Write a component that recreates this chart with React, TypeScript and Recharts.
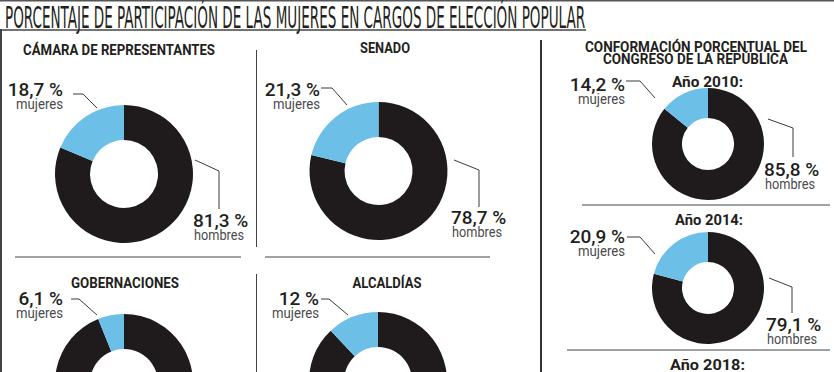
import { PieChart, Pie, Cell } from 'recharts'

// participación por cargo (%)
const cargos = ['CÁMARA DE REPRESENTANTES', 'SENADO', 'GOBERNACIONES', 'ALCALDÍAS']
const cargosMujeres = [18.7, 21.3, 6.1, 12]
const cargosHombres = [81.3, 78.7, 93.9, 88]

// congreso por año (%)
const anios = ['2010', '2014', '2018']
const congresoMujeres = [14.2, 20.9]
const congresoHombres = [85.8, 79.1]

const COLORS = { hombres: '#1f1b1c', mujeres: '#6cc0e8' }
const INK = '#231f20'
const GREY = '#4a4a4c'
const FONT = 'Roboto, "Liberation Sans", sans-serif'
const NARROW = '"Liberation Sans Narrow", "DejaVu Sans Condensed", sans-serif'

const fmt = (v: number) => v.toString().replace('.', ',') + ' %'

type Pt = [number, number]
interface Panel {
  cx: number
  cy: number
  ro: number
  ri: number
  wNum: Pt // end anchor of women number
  wLine: Pt[]
  mNum?: Pt // start anchor of men number
  mLine?: Pt[]
}

// layout of each donut and its callouts
const cargoPanels: Panel[] = [
  { cx: 124, cy: 174, ro: 69, ri: 34, wNum: [63, 96], wLine: [[73, 94], [83, 94], [97, 108]], mNum: [193, 227], mLine: [[195, 160], [219, 171], [219, 209]] },
  { cx: 378.5, cy: 171, ro: 69, ri: 34, wNum: [320, 96], wLine: [[321, 88], [332, 88], [347, 105]], mNum: [451, 224], mLine: [[454, 160], [479, 170], [479, 207]] },
  { cx: 124, cy: 383, ro: 69, ri: 34, wNum: [63, 305], wLine: [[71, 299], [79, 299], [97, 315]] },
  { cx: 378, cy: 381, ro: 69, ri: 34, wNum: [319, 305], wLine: [[321, 299], [329, 299], [348, 315]] },
]
// title centre, baseline, width
const cargoTitles: [number, number, number][] = [[119, 55, 192], [385, 53, 50], [125, 288, 108], [387, 288, 69]]

const congresoPanels: Panel[] = [
  { cx: 708, cy: 144, ro: 56, ri: 26, wNum: [625, 91], wLine: [[626, 81], [640, 81], [655, 98]], mNum: [764, 176], mLine: [[768, 119], [793, 128], [793, 157]] },
  { cx: 708, cy: 288, ro: 56, ri: 26, wNum: [625, 243], wLine: [[627, 237], [640, 237], [655, 254]], mNum: [766, 331], mLine: [[769, 278], [792, 287], [792, 313]] },
]
const anioTitles: [number, number, number][] = [[707.5, 87, 71], [709, 225, 68], [707.5, 370, 75]]

const pts = (p: Pt[]) => p.map((q) => q.join(',')).join(' ')

function Callouts({ panel, m, h }: { panel: Panel; m: number; h: number }) {
  return (
    <g>
      <text x={panel.wNum[0]} y={panel.wNum[1]} textAnchor="end" fontFamily={FONT} fontWeight={500} fontSize={19} fill={INK}>
        {fmt(m)}
      </text>
      <text x={panel.wNum[0]} y={panel.wNum[1] + 12.5} textAnchor="end" fontFamily={FONT} fontSize={15} fill={GREY} textLength={47} lengthAdjust="spacingAndGlyphs">
        mujeres
      </text>
      <polyline points={pts(panel.wLine)} fill="none" stroke="#3a3a3a" strokeWidth={1} />
      {panel.mNum && panel.mLine && (
        <>
          <text x={panel.mNum[0]} y={panel.mNum[1]} fontFamily={FONT} fontWeight={500} fontSize={19} fill={INK}>
            {fmt(h)}
          </text>
          <text x={panel.mNum[0] + 1} y={panel.mNum[1] + 12.5} fontFamily={FONT} fontSize={15} fill={GREY} textLength={50} lengthAdjust="spacingAndGlyphs">
            hombres
          </text>
          <polyline points={pts(panel.mLine)} fill="none" stroke="#3a3a3a" strokeWidth={1} />
        </>
      )}
    </g>
  )
}

function Heading({ x, y, w, children }: { x: number; y: number; w: number; children: string }) {
  return (
    <text x={x} y={y} textAnchor="middle" fontFamily={FONT} fontWeight={700} fontSize={14} fill={INK} textLength={w} lengthAdjust="spacingAndGlyphs">
      {children}
    </text>
  )
}

export default function App() {
  const donuts = [
    ...cargoPanels.map((p, i) => ({ p, m: cargosMujeres[i], h: cargosHombres[i], key: cargos[i] })),
    ...congresoPanels.map((p, i) => ({ p, m: congresoMujeres[i], h: congresoHombres[i], key: anios[i] })),
  ]

  return (
    <div style={{ position: 'absolute', left: 0, top: 0, width: 834, height: 372, background: '#fff' }}>
      <PieChart width={834} height={372} margin={{ top: 0, right: 0, bottom: 0, left: 0 }}>
        {donuts.map((d) => (
          <Pie
            key={d.key}
            data={[
              { name: 'hombres', value: d.h },
              { name: 'mujeres', value: d.m },
            ]}
            dataKey="value"
            cx={d.p.cx}
            cy={d.p.cy}
            innerRadius={d.p.ri}
            outerRadius={d.p.ro}
            startAngle={90}
            endAngle={-270}
            stroke="none"
            isAnimationActive={false}
          >
            <Cell fill={COLORS.hombres} />
            <Cell fill={COLORS.mujeres} />
          </Pie>
        ))}
      </PieChart>

      <svg width={834} height={372} style={{ position: 'absolute', left: 0, top: 0, pointerEvents: 'none' }}>
        {/* frame and rules */}
        <line x1={0} y1={0.75} x2={834} y2={0.75} stroke="#555" strokeWidth={1.5} />
        <line x1={1} y1={29} x2={1} y2={372} stroke="#444" strokeWidth={2} />
        <line x1={0} y1={30} x2={586} y2={30} stroke="#444" strokeWidth={1.5} />
        <line x1={256.5} y1={50} x2={256.5} y2={247} stroke="#444" strokeWidth={1} />
        <line x1={256.5} y1={274} x2={256.5} y2={372} stroke="#444" strokeWidth={1} />
        <line x1={15} y1={257} x2={241} y2={257} stroke="#444" strokeWidth={1} />
        <line x1={265} y1={257} x2={490} y2={257} stroke="#444" strokeWidth={1} />
        <line x1={541} y1={40} x2={541} y2={372} stroke="#333" strokeWidth={2} />
        <line x1={582} y1={205} x2={830} y2={205} stroke="#444" strokeWidth={1} />
        <line x1={567} y1={350} x2={830} y2={350} stroke="#444" strokeWidth={1} />

        <g transform="translate(5,28) scale(0.56,1)">
          <text x={0} y={0} fontFamily={NARROW} fontSize={30} fill={INK} textLength={1036} lengthAdjust="spacingAndGlyphs">
            PORCENTAJE DE PARTICIPACIÓN DE LAS MUJERES EN CARGOS DE ELECCIÓN POPULAR
          </text>
        </g>

        {cargos.map((c, i) => (
          <Heading key={c} x={cargoTitles[i][0]} y={cargoTitles[i][1]} w={cargoTitles[i][2]}>
            {c}
          </Heading>
        ))}

        <Heading x={696} y={52} w={222}>CONFORMACIÓN PORCENTUAL DEL</Heading>
        <Heading x={695.5} y={64} w={185}>CONGRESO DE LA REPÚBLICA</Heading>
        {anios.map((a, i) => (
          <Heading key={a} x={anioTitles[i][0]} y={anioTitles[i][1]} w={anioTitles[i][2]}>
            {`Año ${a}:`}
          </Heading>
        ))}

        {donuts.map((d) => (
          <Callouts key={d.key} panel={d.p} m={d.m} h={d.h} />
        ))}
      </svg>
    </div>
  )
}
